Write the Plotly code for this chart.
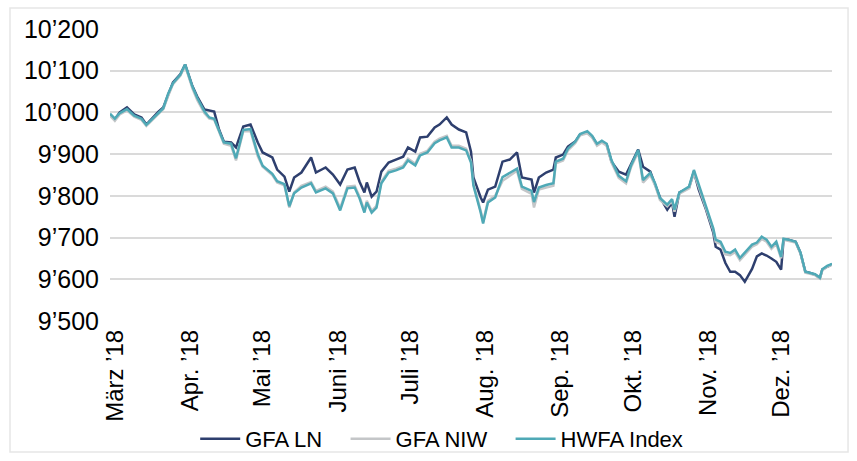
import plotly.graph_objects as go

dates = [
    "2018-02-27", "2018-03-01", "2018-03-03", "2018-03-06", "2018-03-09", "2018-03-12", "2018-03-14",
    "2018-03-17", "2018-03-19", "2018-03-21", "2018-03-23", "2018-03-25", "2018-03-28", "2018-03-30",
    "2018-04-02", "2018-04-04", "2018-04-07", "2018-04-09", "2018-04-11", "2018-04-13", "2018-04-15",
    "2018-04-18", "2018-04-20", "2018-04-23", "2018-04-26", "2018-04-29", "2018-05-01", "2018-05-05",
    "2018-05-07", "2018-05-10", "2018-05-12", "2018-05-14", "2018-05-17", "2018-05-21", "2018-05-23",
    "2018-05-27", "2018-05-30", "2018-06-02", "2018-06-05", "2018-06-08", "2018-06-10", "2018-06-12",
    "2018-06-13", "2018-06-15", "2018-06-17", "2018-06-19", "2018-06-22", "2018-06-25", "2018-06-28",
    "2018-06-30", "2018-07-03", "2018-07-05", "2018-07-08", "2018-07-11", "2018-07-13", "2018-07-16",
    "2018-07-18", "2018-07-21", "2018-07-24", "2018-07-26", "2018-07-27", "2018-07-30", "2018-07-31",
    "2018-08-02", "2018-08-05", "2018-08-08", "2018-08-11", "2018-08-14", "2018-08-16", "2018-08-20",
    "2018-08-21", "2018-08-23", "2018-08-26", "2018-08-29", "2018-08-30", "2018-09-02", "2018-09-04",
    "2018-09-07", "2018-09-09", "2018-09-12", "2018-09-14", "2018-09-16", "2018-09-18", "2018-09-20",
    "2018-09-22", "2018-09-25", "2018-09-28", "2018-09-30", "2018-10-03", "2018-10-05", "2018-10-08",
    "2018-10-10", "2018-10-12", "2018-10-15", "2018-10-17", "2018-10-18", "2018-10-20", "2018-10-24",
    "2018-10-26", "2018-10-28", "2018-10-31", "2018-11-03", "2018-11-04", "2018-11-06", "2018-11-08",
    "2018-11-10", "2018-11-12", "2018-11-14", "2018-11-16", "2018-11-19", "2018-11-21", "2018-11-23",
    "2018-11-25", "2018-11-27", "2018-11-29", "2018-12-01", "2018-12-02", "2018-12-04", "2018-12-07",
    "2018-12-09", "2018-12-11", "2018-12-13", "2018-12-15", "2018-12-17", "2018-12-18", "2018-12-20",
    "2018-12-22",
]

gfa_ln = [
    9995, 9983, 10000, 10012, 9995, 9988, 9971, 9990, 10002, 10012, 10043, 10072, 10091, 10115,
    10063, 10038, 10007, 10005, 10002, 9959, 9930, 9928, 9916, 9966, 9971, 9928, 9904, 9892,
    9863, 9846, 9810, 9844, 9856, 9892, 9856, 9868, 9851, 9827, 9863, 9868, 9834, 9808,
    9832, 9798, 9810, 9858, 9880, 9887, 9894, 9916, 9906, 9940, 9942, 9964, 9971, 9988,
    9971, 9959, 9952, 9906, 9844, 9796, 9784, 9815, 9822, 9882, 9887, 9904, 9844, 9839,
    9808, 9844, 9856, 9863, 9892, 9899, 9918, 9930, 9947, 9952, 9942, 9923, 9930, 9923,
    9882, 9858, 9851, 9875, 9911, 9870, 9858, 9827, 9796, 9767, 9784, 9750, 9808, 9820,
    9858, 9815, 9767, 9712, 9678, 9671, 9639, 9618, 9618, 9610, 9594, 9625, 9655, 9662,
    9657, 9650, 9642, 9623, 9695, 9695, 9690, 9663, 9618, 9615, 9611, 9603, 9623, 9630,
    9636,
]

gfa_niw = [
    9992, 9980, 9995, 10005, 9990, 9982, 9968, 9985, 9998, 10008, 10040, 10068, 10088, 10112,
    10058, 10030, 9998, 9985, 9983, 9955, 9925, 9920, 9885, 9955, 9955, 9895, 9870, 9850,
    9832, 9825, 9772, 9808, 9824, 9833, 9812, 9822, 9810, 9770, 9822, 9824, 9798, 9764,
    9788, 9764, 9776, 9834, 9860, 9865, 9872, 9889, 9877, 9901, 9908, 9930, 9937, 9944,
    9920, 9920, 9913, 9884, 9829, 9764, 9738, 9788, 9800, 9836, 9848, 9860, 9817, 9805,
    9772, 9815, 9820, 9824, 9878, 9885, 9909, 9926, 9945, 9950, 9940, 9920, 9928, 9920,
    9880, 9843, 9830, 9868, 9905, 9832, 9850, 9825, 9790, 9775, 9788, 9762, 9805, 9818,
    9856, 9820, 9770, 9718, 9690, 9685, 9660, 9658, 9665, 9646, 9658, 9678, 9684, 9697,
    9690, 9673, 9685, 9650, 9695, 9692, 9688, 9662, 9616, 9613, 9610, 9602, 9622, 9630,
    9635,
]

hwfa_index = [
    9997, 9985, 9998, 10008, 9992, 9985, 9970, 9988, 10000, 10010, 10045, 10070, 10090, 10115,
    10062, 10035, 10002, 9988, 9985, 9958, 9928, 9925, 9890, 9958, 9960, 9900, 9872, 9853,
    9835, 9828, 9775, 9806, 9820, 9830, 9808, 9818, 9806, 9765, 9818, 9820, 9794, 9760,
    9784, 9760, 9772, 9830, 9856, 9861, 9868, 9885, 9873, 9897, 9904, 9926, 9933, 9940,
    9916, 9916, 9909, 9880, 9825, 9760, 9734, 9784, 9796, 9845, 9855, 9865, 9822, 9812,
    9785, 9820, 9826, 9830, 9882, 9889, 9913, 9930, 9948, 9955, 9944, 9925, 9932, 9925,
    9885, 9848, 9835, 9872, 9910, 9838, 9855, 9830, 9795, 9779, 9792, 9767, 9808, 9822,
    9862, 9825, 9775, 9722, 9695, 9690, 9666, 9663, 9671, 9651, 9663, 9683, 9688, 9702,
    9695, 9678, 9690, 9654, 9697, 9695, 9690, 9664, 9618, 9615, 9612, 9604, 9624, 9632,
    9637,
]

series_names = ["GFA LN", "GFA NIW", "HWFA Index"]

month_ticks = ["2018-03-01", "2018-04-01", "2018-05-01", "2018-06-01", "2018-07-01",
               "2018-08-01", "2018-09-01", "2018-10-01", "2018-11-01", "2018-12-01"]
month_labels = ["März ’18", "Apr. ’18", "Mai ’18", "Juni ’18", "Juli ’18",
                "Aug. ’18", "Sep. ’18", "Okt. ’18", "Nov. ’18", "Dez. ’18"]

y_ticks = [9500, 9600, 9700, 9800, 9900, 10000, 10100, 10200]
y_labels = ["9’500", "9’600", "9’700", "9’800", "9’900", "10’000", "10’100", "10’200"]

colors = ["#2e3f6e", "#c4c6c8", "#4fa9b6"]

fig = go.Figure()
pad = "\u00a0" * 3
for i, (name, vals, col) in enumerate(zip(series_names, [gfa_ln, gfa_niw, hwfa_index], colors)):
    label = name + (pad if i < len(series_names) - 1 else "")
    fig.add_trace(go.Scatter(x=dates, y=vals, mode="lines", name=label,
                             line=dict(color=col, width=2.5)))

font_family = "Liberation Sans, Arial, sans-serif"

fig.update_layout(
    width=857, height=461,
    margin=dict(l=110, r=25, t=29, b=140, autoexpand=False),
    paper_bgcolor="white", plot_bgcolor="white",
    font=dict(family=font_family, color="black"),
    showlegend=True,
    legend=dict(orientation="h", x=0.118, xanchor="left", y=-0.404, yanchor="middle",
                font=dict(size=22, family=font_family), itemwidth=40,
                bgcolor="rgba(0,0,0,0)"),
    xaxis=dict(type="date", range=[dates[0], dates[-1]], automargin=False,
               tickmode="array", tickvals=month_ticks, ticktext=month_labels,
               tickangle=-90, tickfont=dict(size=24), showgrid=False,
               showline=False, zeroline=False, ticks="", ticklabelstandoff=3),
    yaxis=dict(range=[9500, 10200], tickmode="array", tickvals=y_ticks, ticktext=y_labels,
               automargin=False,
               tickfont=dict(size=25), showgrid=True, gridcolor="#dadada", gridwidth=2,
               zeroline=False, showline=False, ticks="", ticklabelstandoff=10),
    shapes=[dict(type="rect", xref="paper", yref="paper",
                 x0=-0.1385, x1=1.0222, y0=-0.4486, y1=1.0719,
                 line=dict(color="#e6e6e6", width=1.5), layer="below")],
)

fig.write_html("out.html", config={"displayModeBar": False},
               post_script="document.body.style.margin='0';document.body.style.overflow='hidden';")
